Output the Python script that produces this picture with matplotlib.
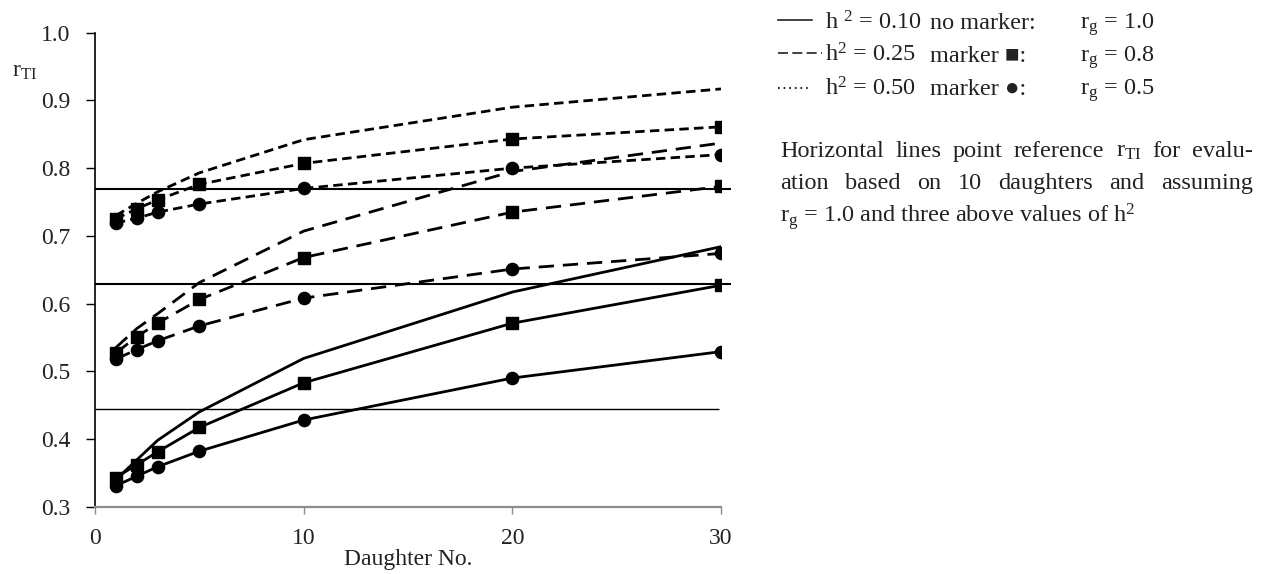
import matplotlib
matplotlib.use('Agg')
import matplotlib.pyplot as plt
from matplotlib.lines import Line2D

plt.rcParams['font.family'] = ['Liberation Serif', 'DejaVu Serif']
plt.rcParams['mathtext.fontset'] = 'custom'
plt.rcParams['mathtext.rm'] = 'Liberation Serif'
plt.rcParams['mathtext.it'] = 'Liberation Serif:italic'

# number of daughters
daughters = [1, 2, 3, 5, 10, 20, 30]

# h2 = 0.10 (solid)
h10_rg10 = [0.340, 0.369, 0.398, 0.440, 0.519, 0.617, 0.684]
h10_rg08 = [0.343, 0.362, 0.381, 0.417, 0.483, 0.571, 0.627]
h10_rg05 = [0.331, 0.345, 0.359, 0.382, 0.428, 0.490, 0.529]

# h2 = 0.25 (long dash)
h25_rg10 = [0.535, 0.563, 0.585, 0.631, 0.707, 0.795, 0.837]
h25_rg08 = [0.527, 0.551, 0.571, 0.606, 0.668, 0.735, 0.773]
h25_rg05 = [0.518, 0.532, 0.545, 0.567, 0.608, 0.651, 0.674]

# h2 = 0.50 (short dash)
h50_rg10 = [0.730, 0.748, 0.765, 0.793, 0.842, 0.890, 0.917]
h50_rg08 = [0.725, 0.740, 0.753, 0.776, 0.807, 0.843, 0.861]
h50_rg05 = [0.719, 0.726, 0.735, 0.747, 0.770, 0.800, 0.820]

# reference r_TI for 10 daughters, rg = 1.0
ref_r = [0.769, 0.6285, 0.445]
ref_end = [30.5, 30.5, 29.9]
ref_lw = [1.5, 1.5, 1.0]

W, H = 1263, 574
TXT = '#222222'
TICK_FS = 17
FS = 17.5

fig = plt.figure(figsize=(W / 100, H / 100), dpi=100)
ax = fig.add_axes([95 / W, 1 - 506.7 / H, (721 - 95) / W, (506.7 - 32.7) / H])

long_dash = (0, (5.5, 3.2))
short_dash = (0, (3.4, 1.9))
groups = [
    ('-', [h10_rg10, h10_rg08, h10_rg05]),
    (long_dash, [h25_rg10, h25_rg08, h25_rg05]),
    (short_dash, [h50_rg10, h50_rg08, h50_rg05]),
]
markers = [None, 's', 'o']
for ls, series in groups:
    for vals, m in zip(series, markers):
        ax.plot(daughters, vals, color='black', lw=2.0, linestyle=ls,
                marker=m, markersize=8.8, zorder=3)

for r, xe, lw in zip(ref_r, ref_end, ref_lw):
    ax.hlines(r, 0, xe, color='black', lw=lw, clip_on=False, zorder=2)

ax.set_xlim(0, 30)
ax.set_ylim(0.3, 1.0)
ax.set_xticks([0, 10, 20, 30])
ax.set_yticks([0.3, 0.4, 0.5, 0.6, 0.7, 0.8, 0.9, 1.0])
ax.set_yticklabels(['0.3', '0.4', '0.5', '0.6', '0.7', '0.8', '0.9', '1.0'])

for s in ['top', 'right']:
    ax.spines[s].set_visible(False)
ax.spines['left'].set_color('black')
ax.spines['left'].set_linewidth(1.2)
ax.spines['bottom'].set_color('#8c8c8c')
ax.spines['bottom'].set_linewidth(1.6)

ax.tick_params(axis='y', length=6.5, width=1, color='black', pad=11,
               labelsize=TICK_FS, labelcolor=TXT)
ax.tick_params(axis='x', length=5, width=1, color='#8c8c8c', pad=10,
               labelsize=TICK_FS, labelcolor=TXT)

ax.set_xlabel('Daughter No.', fontsize=TICK_FS, color=TXT, labelpad=0)
fig.text(12 / W, 1 - 77 / H, r'r$_{\mathrm{TI}}$', fontsize=TICK_FS, color=TXT,
         va='baseline', ha='left')

# legend-like text block on the right
rows = [
    (29, 9, '-', 1.2, 812, 'h $^2$ = 0.10', 'no marker:', r'r$_{\mathrm{g}}$ = 1.0'),
    (62, 9, (0, (6, 2.6)), 1.2, 822, 'h$^2$ = 0.25', 'marker ■:', r'r$_{\mathrm{g}}$ = 0.8'),
    (95, 7, (0, (0.8, 1.9)), 1.5, 810, 'h$^2$ = 0.50', 'marker ●:', r'r$_{\mathrm{g}}$ = 0.5'),
]
for yb, off, ls, lw, xe, h2, mk, rg in rows:
    fy = 1 - yb / H
    ly = 1 - (yb - off) / H
    fig.add_artist(Line2D([778 / W, xe / W], [ly, ly], color=TXT, lw=lw,
                          linestyle=ls, transform=fig.transFigure))
    fig.text(825 / W, fy, h2, fontsize=FS, color=TXT, va='baseline')
    fig.text(930 / W, fy, mk, fontsize=FS, color=TXT, va='baseline')
    fig.text(1080 / W, fy, rg, fontsize=FS, color=TXT, va='baseline')

para = [
    (157, 'Horizontal lines point reference r$_{\\mathrm{TI}}$ for evalu-', 1253),
    (189, 'ation based on 10 daughters and assuming', 1253),
    (222, 'r$_{\\mathrm{g}}$ = 1.0 and three above values of h$^2$', None),
]
renderer = fig.canvas.get_renderer()
for yb, line, xr in para:
    fy = 1 - yb / H
    if xr is None:
        fig.text(780 / W, fy, line, fontsize=FS, color=TXT, va='baseline')
        continue
    ts = [fig.text(0, fy, w, fontsize=FS, color=TXT, va='baseline')
          for w in line.split(' ')]
    widths = [t.get_window_extent(renderer).width for t in ts]
    gap = (xr - 780 - sum(widths)) / (len(ts) - 1)
    x = 780
    for t, w in zip(ts, widths):
        t.set_x(x / W)
        x += w + gap

fig.savefig('out.png', dpi=100)
